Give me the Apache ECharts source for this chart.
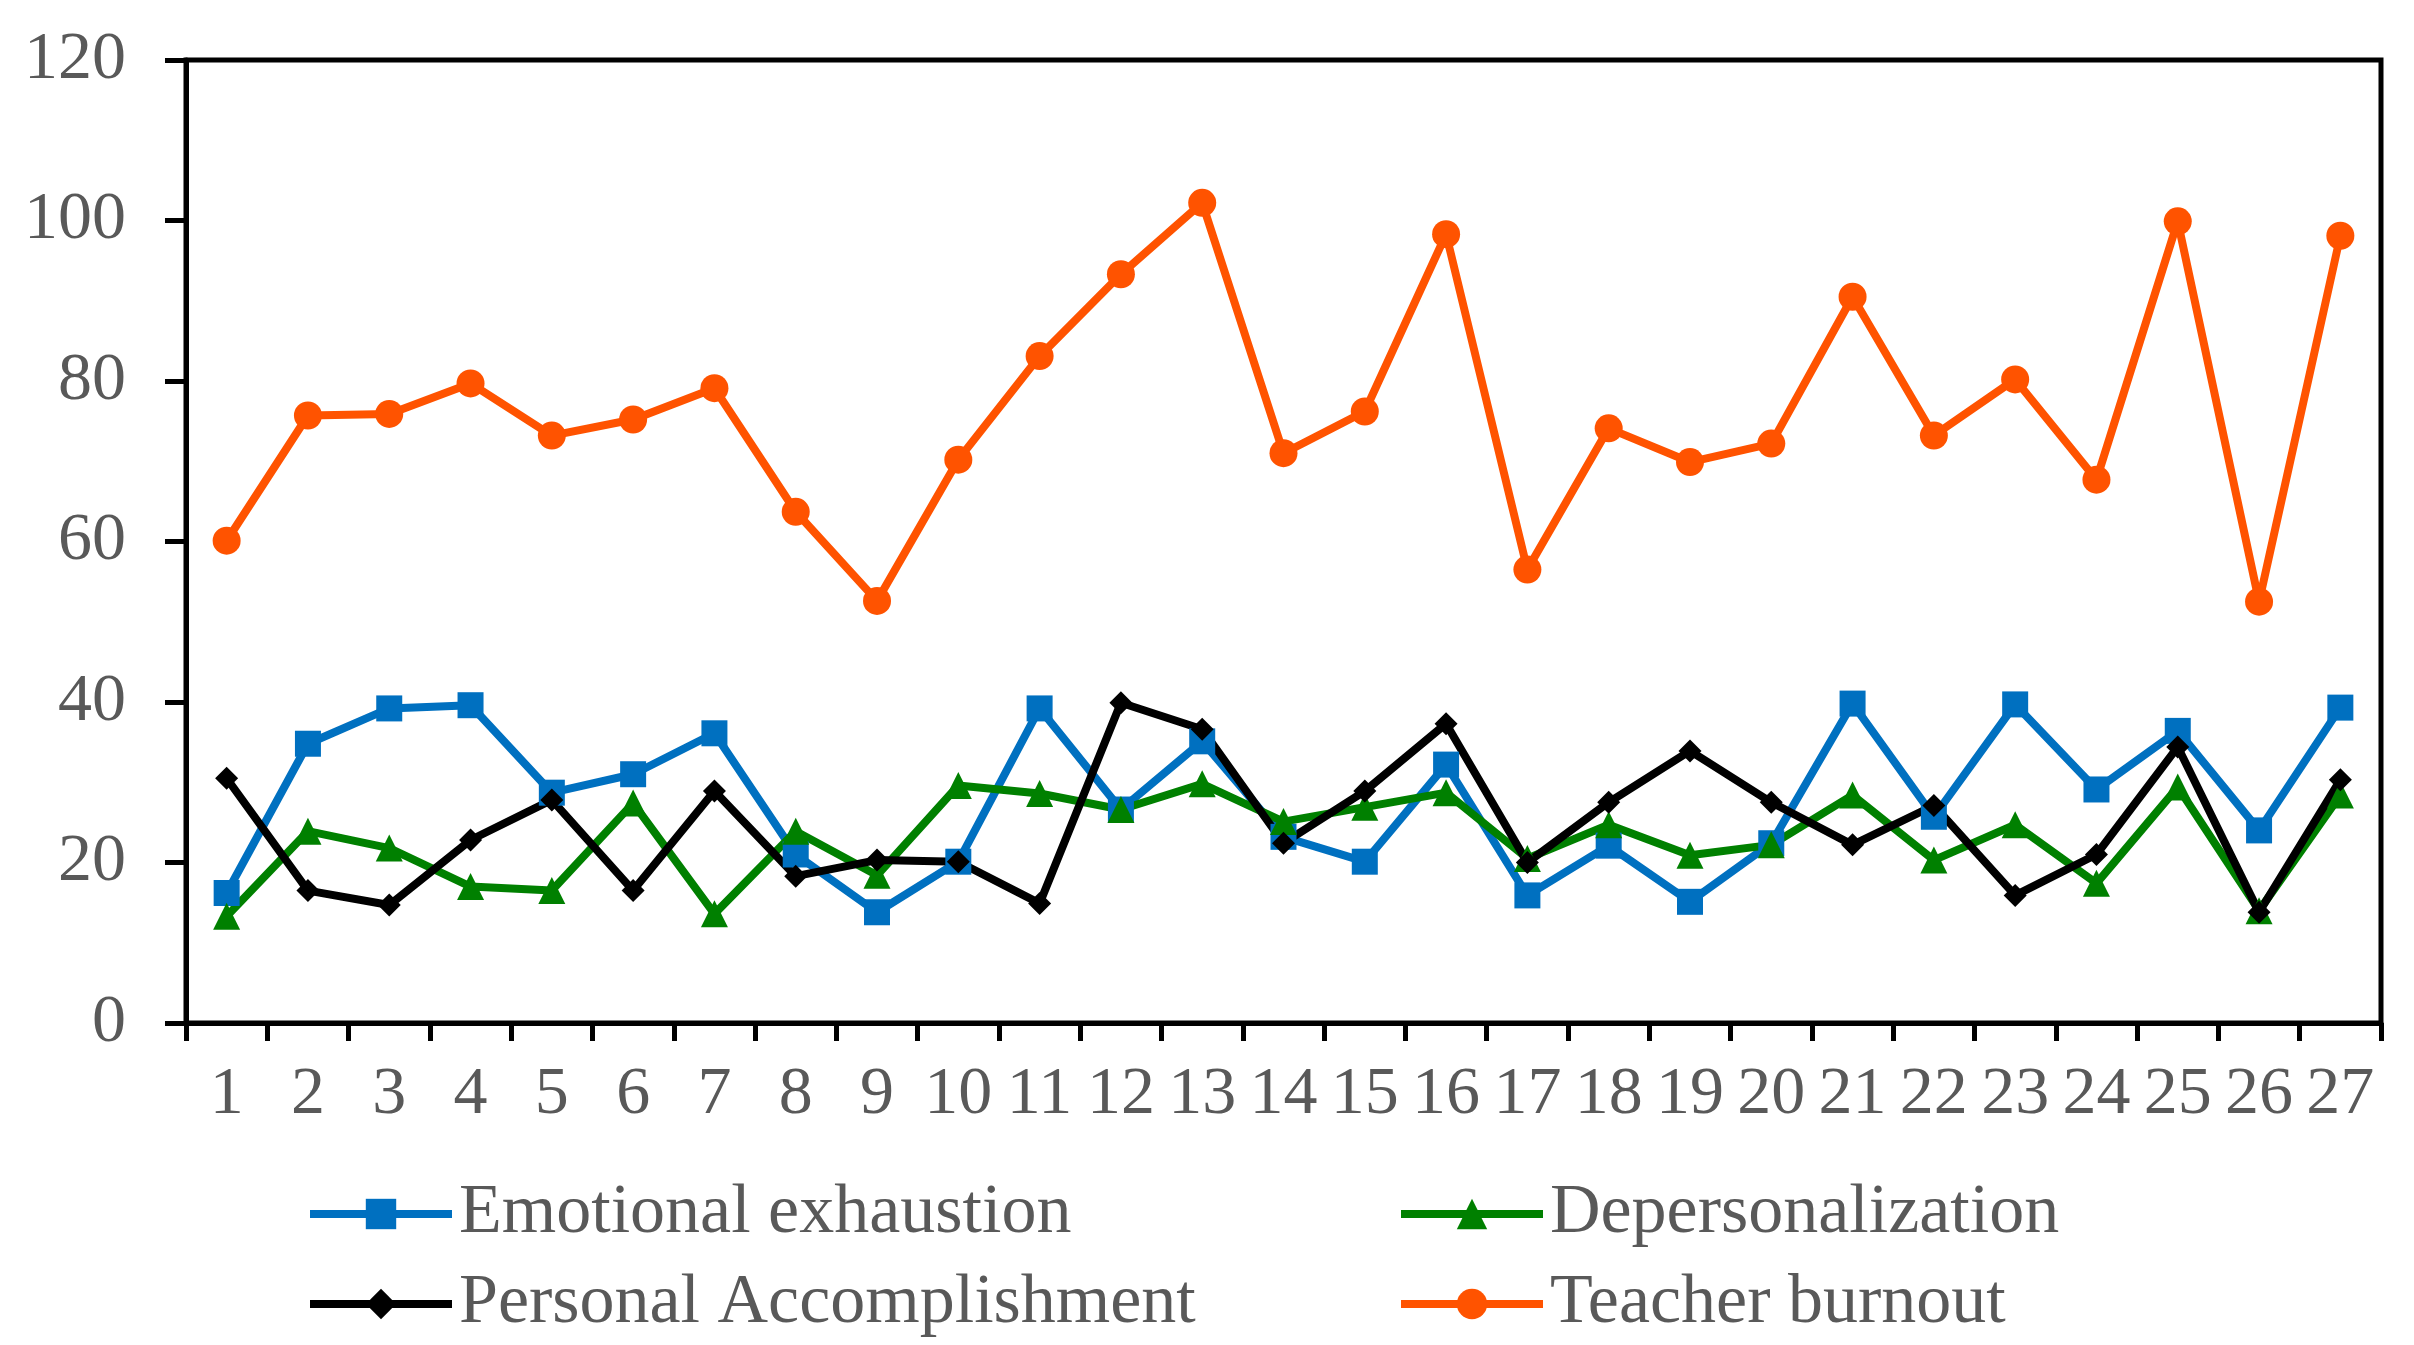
<!DOCTYPE html>
<html>
<head>
<meta charset="utf-8">
<script src="https://cdn.jsdelivr.net/npm/echarts@6/dist/echarts.min.js"></script>
<style>
html,body{margin:0;padding:0;background:#fff;}
#chart{width:2414px;height:1345px;}
</style>
</head>
<body>
<div id="chart"></div>
<script>
const categories = ['1','2','3','4','5','6','7','8','9','10','11','12','13','14','15','16','17','18','19','20','21','22','23','24','25','26','27'];
const yTicks = [0, 20, 40, 60, 80, 100, 120];

const emotionalExhaustion = [16.2, 34.8, 39.2, 39.6, 28.7, 31.0, 36.1, 21.0, 13.8, 20.1, 39.2, 26.6, 35.1, 23.2, 20.1, 32.2, 15.9, 22.1, 15.1, 22.4, 39.8, 25.7, 39.7, 29.1, 36.4, 24.0, 39.3];
const depersonalization = [13.3, 23.9, 21.8, 17.0, 16.5, 27.4, 13.6, 23.9, 18.4, 29.6, 28.6, 26.6, 29.8, 25.1, 26.9, 28.7, 20.5, 24.7, 20.9, 22.2, 28.4, 20.3, 24.7, 17.4, 29.4, 14.0, 28.4];
const personalAccomplishment = [30.5, 16.5, 14.7, 22.8, 27.8, 16.5, 28.9, 18.3, 20.3, 20.1, 14.9, 39.9, 36.6, 22.4, 28.9, 37.3, 20.0, 27.5, 33.9, 27.5, 22.2, 27.1, 15.9, 21.0, 34.4, 13.8, 30.3];
const teacherBurnout = [60.1, 75.7, 75.9, 79.7, 73.2, 75.2, 79.1, 63.7, 52.6, 70.2, 83.1, 93.3, 102.2, 71.0, 76.2, 98.3, 56.5, 74.1, 69.9, 72.2, 90.5, 73.2, 80.2, 67.7, 99.9, 52.5, 98.1];

const seriesNames = ['Emotional exhaustion', 'Depersonalization', 'Personal Accomplishment', 'Teacher burnout'];
const seriesColors = ['#0070C0', '#008000', '#000000', '#FF5300'];

const FONT = '"Liberation Serif", "Times New Roman", serif';
const TEXT_COLOR = '#595959';

function lineSeries(name, data, color, symbol, size) {
  return {
    name: name,
    type: 'line',
    data: data,
    symbol: symbol,
    symbolSize: size,
    showAllSymbol: true,
    lineStyle: { color: color, width: 8 },
    itemStyle: { color: color, borderWidth: 0 },
    emphasis: { disabled: true },
    animation: false,
    z: 2
  };
}

const chart = echarts.init(document.getElementById('chart'), null, { renderer: 'canvas' });
const legendCommon = {
  orient: 'vertical',
  top: 1176,
  padding: 0,
  itemWidth: 142,
  itemHeight: 38,
  itemGap: 14,
  lineStyle: { width: 8 },
  textStyle: { fontFamily: FONT, fontSize: 70, color: TEXT_COLOR, lineHeight: 76, padding: [0, 0, 0, 2] },
  selectedMode: false,
  inactiveColor: TEXT_COLOR
};

chart.setOption({
  animation: false,
  backgroundColor: '#ffffff',
  grid: {
    left: 186, right: 33, top: 60, bottom: 322,
    show: true, borderColor: '#000', borderWidth: 5, backgroundColor: 'transparent'
  },
  legend: [
    Object.assign({}, legendCommon, { left: 306, data: [seriesNames[0], seriesNames[2]] }),
    Object.assign({}, legendCommon, { left: 1397, data: [seriesNames[1], seriesNames[3]] })
  ],
  xAxis: {
    type: 'category',
    data: categories,
    boundaryGap: true,
    axisLine: { show: true, lineStyle: { color: '#000', width: 5 } },
    axisTick: { show: true, inside: false, length: 18, alignWithLabel: false, lineStyle: { color: '#000', width: 5 } },
    axisLabel: { fontFamily: FONT, fontSize: 68, color: TEXT_COLOR, margin: 38, interval: 0 },
    splitLine: { show: false }
  },
  yAxis: {
    type: 'value',
    min: yTicks[0],
    max: yTicks[yTicks.length - 1],
    interval: yTicks[1] - yTicks[0],
    axisLine: { show: true, lineStyle: { color: '#000', width: 5 } },
    axisTick: { show: true, inside: false, length: 21, lineStyle: { color: '#000', width: 5 } },
    axisLabel: { fontFamily: FONT, fontSize: 68, color: TEXT_COLOR, margin: 60 },
    splitLine: { show: false }
  },
  series: [
    lineSeries(seriesNames[0], emotionalExhaustion, seriesColors[0], 'rect', 26),
    lineSeries(seriesNames[1], depersonalization, seriesColors[1], 'triangle', 27),
    lineSeries(seriesNames[2], personalAccomplishment, seriesColors[2], 'diamond', 23),
    lineSeries(seriesNames[3], teacherBurnout, seriesColors[3], 'circle', 28)
  ]
});
</script>
</body>
</html>
